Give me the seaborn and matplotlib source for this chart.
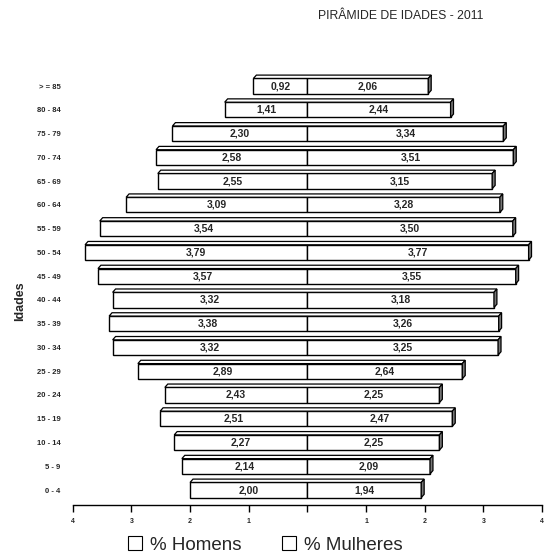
"""Piramide de idades 2011"""

import numpy as np
import pandas as pd
import matplotlib.pyplot as plt
import seaborn as sns
from matplotlib.patches import Patch, Polygon

# data (top row first)
idades = ["> = 85", "80 - 84", "75 - 79", "70 - 74", "65 - 69", "60 - 64",
          "55 - 59", "50 - 54", "45 - 49", "40 - 44", "35 - 39", "30 - 34",
          "25 - 29", "20 - 24", "15 - 19", "10 - 14", "5 - 9", "0 - 4"]
homens = [0.92, 1.41, 2.30, 2.58, 2.55, 3.09, 3.54, 3.79, 3.57, 3.32, 3.38,
          3.32, 2.89, 2.43, 2.51, 2.27, 2.14, 2.00]
mulheres = [2.06, 2.44, 3.34, 3.51, 3.15, 3.28, 3.50, 3.77, 3.55, 3.18, 3.26,
            3.25, 2.64, 2.25, 2.47, 2.25, 2.09, 1.94]
xticks = [-4, -3, -2, -1, 0, 1, 2, 3, 4]
xticklabels = ["4", "3", "2", "1", "", "1", "2", "3", "4"]

df = pd.DataFrame({"Idade": idades, "Homens": homens, "Mulheres": mulheres})
df["HomensNeg"] = -df["Homens"]

sns.set_style("white")
plt.rcParams["font.family"] = ["Liberation Sans", "DejaVu Sans"]

fig = plt.figure(figsize=(5.47, 5.59), dpi=100)
ax = fig.add_axes([0.133, 0.0966, 0.858, 0.775])

sns.barplot(data=df, x="HomensNeg", y="Idade", order=idades, orient="h",
            color="white", saturation=1, edgecolor="black", linewidth=1,
            width=0.64, ax=ax)
sns.barplot(data=df, x="Mulheres", y="Idade", order=idades, orient="h",
            color="white", saturation=1, edgecolor="black", linewidth=1,
            width=0.64, ax=ax)

# 3d look: top face + right face of each bar
dx, dy = 0.05, 0.14
n = len(idades)
male_p = ax.patches[:n]
fem_p = ax.patches[n:2 * n]
for pm, pf in zip(male_p, fem_p):
    x0 = pm.get_x()
    w0 = pm.get_width()
    left = min(x0, x0 + w0)
    right = pf.get_x() + pf.get_width()
    ytop = pm.get_y()
    ybot = pm.get_y() + pm.get_height()
    top = Polygon([(left, ytop), (left + dx, ytop - dy), (right + dx, ytop - dy),
                   (right, ytop)], closed=True, facecolor="white",
                  edgecolor="black", lw=0.9, zorder=3)
    side = Polygon([(right, ytop), (right + dx, ytop - dy), (right + dx, ybot - dy),
                    (right, ybot)], closed=True, facecolor="#777777",
                   edgecolor="black", lw=0.9, zorder=3)
    ax.add_patch(top)
    ax.add_patch(side)

# value labels
for i, (h, m) in enumerate(zip(homens, mulheres)):
    ax.text(-h / 2, i, f"{h:.2f}".replace(".", ","), ha="center", va="center",
            fontsize=7.5, fontweight="bold", zorder=4)
    ax.text(m / 2, i, f"{m:.2f}".replace(".", ","), ha="center", va="center",
            fontsize=7.5, fontweight="bold", zorder=4)

ax.set_xlim(-4, 4)
ax.set_ylim(n - 1 + 0.63, -0.6)
ax.set_xticks(xticks)
ax.set_xticklabels(xticklabels, fontsize=5, fontweight="bold")
ax.tick_params(axis="x", direction="out", length=5, width=1, color="black",
               bottom=True, pad=4)
ax.tick_params(axis="y", length=0, pad=9)
for lab in ax.get_yticklabels():
    lab.set_fontsize(5.5)
    lab.set_fontweight("bold")
ax.set_xlabel("")
ax.set_ylabel("Idades", fontsize=9, fontweight="bold")
ax.yaxis.set_label_coords(-0.1, 0.47)

for s in ["top", "left", "right"]:
    ax.spines[s].set_visible(False)
ax.spines["bottom"].set_color("black")
ax.spines["bottom"].set_linewidth(1)

fig.text(0.732, 0.972, "PIRÂMIDE DE IDADES - 2011", ha="center", va="center",
         fontsize=8.8)

handles = [Patch(facecolor="white", edgecolor="black", lw=0.8),
           Patch(facecolor="white", edgecolor="black", lw=0.8)]
fig.legend(handles, ["% Homens", "% Mulheres"], loc="center",
           bbox_to_anchor=(0.485, 0.025), ncol=2, frameon=False, fontsize=13.5,
           handlelength=0.75, handleheight=0.75, handletextpad=0.4,
           columnspacing=2.2)

fig.savefig("out.png", dpi=100)
